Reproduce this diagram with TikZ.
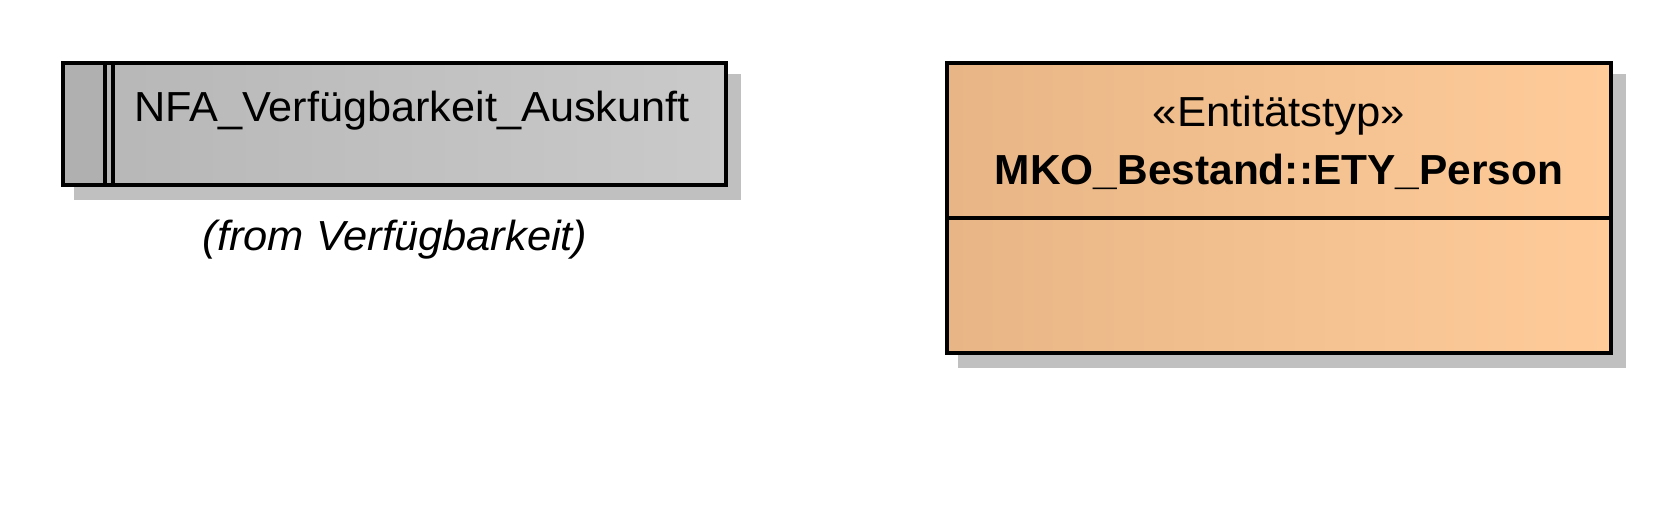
\documentclass[tikz,border=0pt]{standalone}
\usepackage{fontspec}
\setmainfont{Liberation Sans}
\definecolor{shadowgray}{RGB}{192,192,192}
\definecolor{stripgray}{RGB}{176,176,176}
\definecolor{grayL}{RGB}{182,182,182}
\definecolor{grayR}{RGB}{202,202,202}
\definecolor{peachL}{RGB}{232,182,134}
\definecolor{peachR}{RGB}{254,203,153}
\tikzset{
  umlbox/.style={draw=none, inner sep=0pt, rectangle},
  shadowbox/.style={fill=shadowgray, draw=none, inner sep=0pt, rectangle},
  lbl/.style={inner sep=0pt, font=\fontsize{42}{46}\selectfont}
}
\begin{document}
\begin{tikzpicture}[x=1pt,y=-1pt]
\useasboundingbox[fill=white] (0,0) rectangle (1678,517);
% left: NFA box
\node[shadowbox, minimum width=667pt, minimum height=126pt] (nfashadow) at (407.5,137) {};
\node[umlbox, left color=grayL, right color=grayR, minimum width=663pt, minimum height=122pt] (nfa) at (394.5,124) {};
\fill[stripgray] (nfa.north west) rectangle ([xshift=41.7pt]nfa.south west);
\draw[line width=4pt] (nfa.north west) rectangle (nfa.south east);
\draw[line width=4pt] ([xshift=41.7pt]nfa.north west) -- ([xshift=41.7pt]nfa.south west);
\draw[line width=4pt] ([xshift=50pt]nfa.north west) -- ([xshift=50pt]nfa.south west);
\node[lbl, anchor=base west] (nfatext) at (134,121) {\scalebox{1.03}[1]{NFA\_Verfügbarkeit\_Auskunft}};
\node[lbl, anchor=base, font=\fontsize{42}{46}\selectfont\itshape] (nfafrom) at (395,250) {\scalebox{1.035}[1]{(from Verfügbarkeit)}};
% right: entity box
\node[shadowbox, minimum width=668pt, minimum height=294pt] (etyshadow) at (1291.5,221) {};
\node[umlbox, left color=peachL, right color=peachR, minimum width=664pt, minimum height=290pt] (ety) at (1279,208) {};
\draw[line width=4pt] (ety.north west) rectangle (ety.south east);
\draw[line width=4.5pt] (ety.west |- 0,218) -- (ety.east |- 0,218);
\node[lbl, anchor=base] (etyster) at (1279,126) {\scalebox{1.04}[1]{«Entitätstyp»}};
\node[lbl, anchor=base, font=\fontsize{42}{46}\selectfont\bfseries] (etyname) at (1279,184) {\scalebox{1.01}[1]{MKO\_Bestand::ETY\_Person}};
\end{tikzpicture}
\end{document}
